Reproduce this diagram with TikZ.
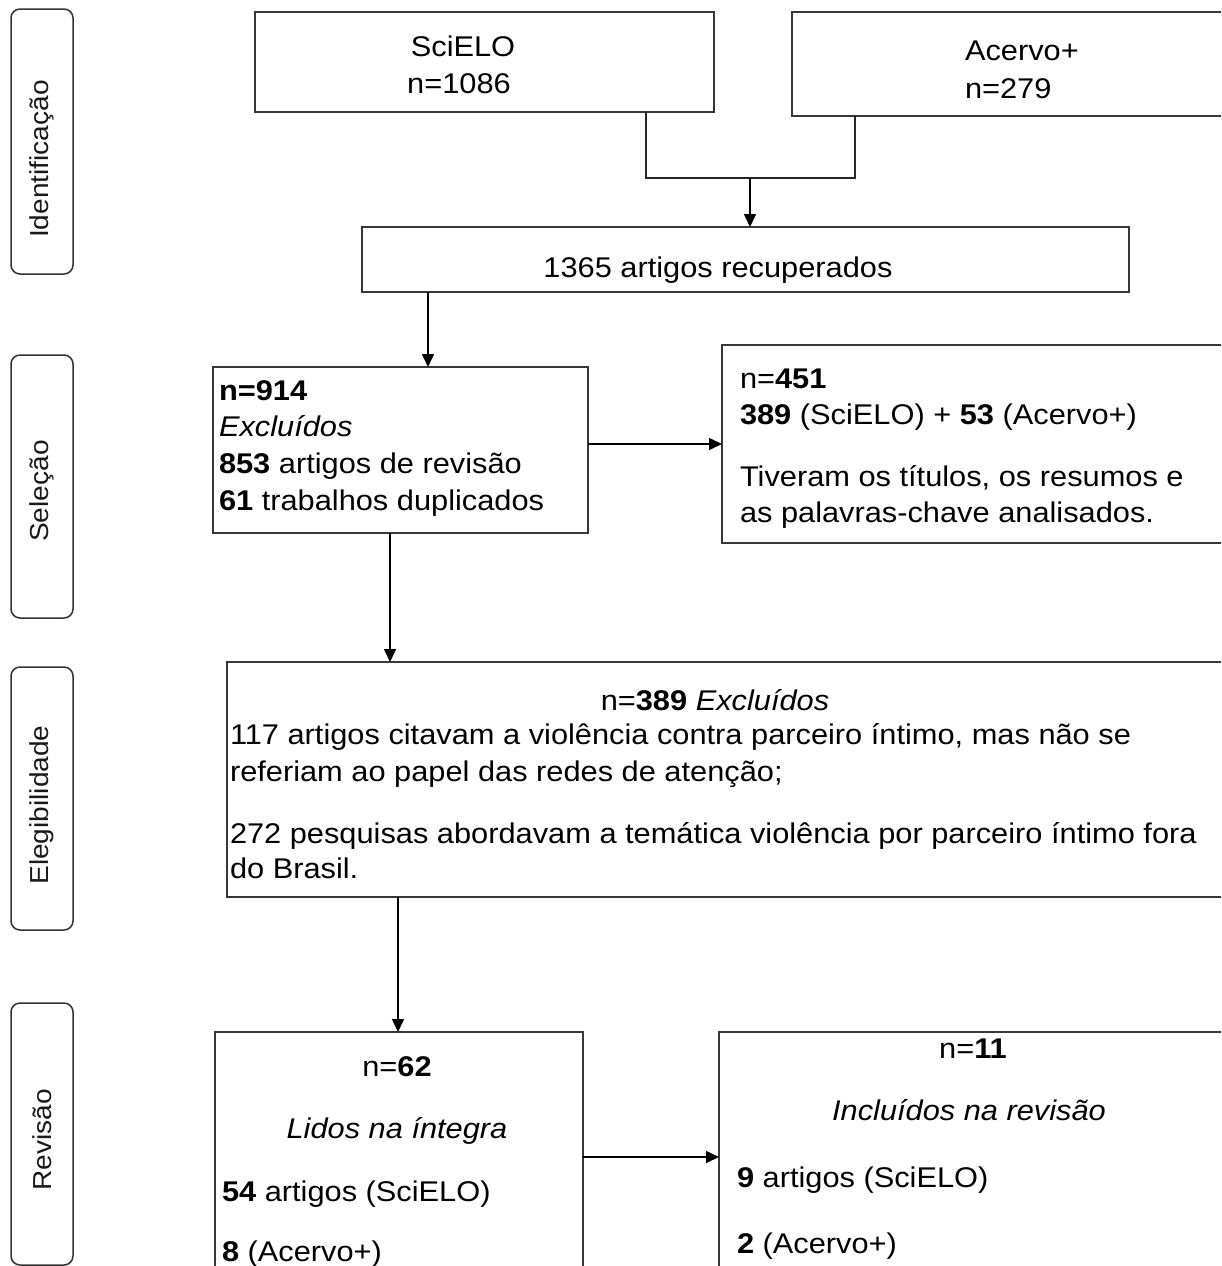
\documentclass[tikz,border=0pt]{standalone}
\usepackage{fontspec}
\setmainfont[FakeStretch=1.08]{Liberation Sans}
\usetikzlibrary{arrows.meta}
\newcommand\fs{\fontsize{28.5}{33}\selectfont}
\newcommand\lfs{\fontsize{26}{30}\selectfont}
\begin{document}
\begin{tikzpicture}[x=1pt,y=-1pt,
 box/.style={draw=black!78, line width=1.7pt, rectangle, anchor=north west, inner sep=0pt, outer sep=0pt},
 lab/.style={draw=black!80, line width=1.5pt, rounded corners=9pt, rectangle, anchor=north west, inner sep=0pt, outer sep=0pt},
 arr/.style={draw=black, line width=1.6pt, -{Triangle[length=13pt,width=12pt]}},
 con/.style={draw=black!85, line width=1.6pt},
 txt/.style={inner sep=0pt, outer sep=0pt, font=\fs, text=black},
 ltxt/.style={inner sep=0pt, outer sep=0pt, font=\lfs, rotate=90, text=black!90}]
\useasboundingbox (0,0) rectangle (1221,1266);
\fill[white] (0,0) rectangle (1221,1266);
\clip (0,0) rectangle (1221,1266);

% side labels
\node[lab, minimum width=62pt, minimum height=265pt] (L1) at (11,9) {};
\node[lab, minimum width=62pt, minimum height=263pt] (L2) at (11,355) {};
\node[lab, minimum width=62pt, minimum height=263pt] (L3) at (11,667) {};
\node[lab, minimum width=62pt, minimum height=262pt] (L4) at (11,1003) {};
\node[ltxt] (t1) at (42,159) {Identificação};
\node[ltxt] (t2) at (42,491) {Seleção};
\node[ltxt] (t3) at (42,805) {Elegibilidade};
\node[ltxt] (t4) at (42,1140) {Revisão};

% boxes
\node[box, minimum width=459pt, minimum height=100pt] (sci) at (255,12) {};
\node[box, minimum width=450pt, minimum height=104pt] (acv) at (792,12) {};
\node[box, minimum width=767pt, minimum height=65pt] (rec) at (362,227) {};
\node[box, minimum width=375pt, minimum height=166pt] (exc) at (213,367) {};
\node[box, minimum width=520pt, minimum height=198pt] (sel) at (722,345) {};
\node[box, minimum width=1015pt, minimum height=235pt] (eleg) at (227,662) {};
\node[box, minimum width=368pt, minimum height=260pt] (lid) at (215,1032) {};
\node[box, minimum width=522pt, minimum height=260pt] (inc) at (719,1032) {};

% texts
\node[txt, anchor=base] (s1) at (463,56) {SciELO};
\node[txt, anchor=base] (s2) at (459,93) {n=1086};
\node[txt, anchor=base west] (a1) at (965,60) {Acervo+};
\node[txt, anchor=base west] (a2t) at (965,98) {n=279};
\node[txt, anchor=base] (r1) at (718,277) {1365 artigos recuperados};

\node[txt, anchor=base west] (e1) at (219,400) {\textbf{n=914}};
\node[txt, anchor=base west] (e2) at (219,436) {\textit{Excluídos}};
\node[txt, anchor=base west] (e3) at (219,473) {\textbf{853} artigos de revisão};
\node[txt, anchor=base west] (e4) at (219,510) {\textbf{61} trabalhos duplicados};

\node[txt, anchor=base west] (p1) at (740,388) {n=\textbf{451}};
\node[txt, anchor=base west] (p2) at (740,424) {\textbf{389} (SciELO) + \textbf{53} (Acervo+)};
\node[txt, anchor=base west] (p3) at (740,486) {Tiveram os títulos, os resumos e};
\node[txt, anchor=base west] (p4) at (740,522) {as palavras-chave analisados.};

\node[txt, anchor=base] (g1) at (715,710) {n=\textbf{389} \textit{Excluídos}};
\node[txt, anchor=base west] (g2) at (230,744) {117 artigos citavam a violência contra parceiro íntimo, mas não se};
\node[txt, anchor=base west] (g3) at (230,781) {referiam ao papel das redes de atenção;};
\node[txt, anchor=base west] (g4) at (230,843) {272 pesquisas abordavam a temática violência por parceiro íntimo fora};
\node[txt, anchor=base west] (g5) at (230,878) {do Brasil.};

\node[txt, anchor=base] (l1) at (397,1076) {n=\textbf{62}};
\node[txt, anchor=base] (l2) at (397,1138) {\textit{Lidos na íntegra}};
\node[txt, anchor=base west] (l3) at (222,1201) {\textbf{54} artigos (SciELO)};
\node[txt, anchor=base west] (l4) at (222,1261) {\textbf{8} (Acervo+)};

\node[txt, anchor=base] (i1) at (973,1058) {n=\textbf{11}};
\node[txt, anchor=base] (i2) at (969,1120) {\textit{Incluídos na revisão}};
\node[txt, anchor=base west] (i3) at (737,1187) {\textbf{9} artigos (SciELO)};
\node[txt, anchor=base west] (i4) at (737,1253) {\textbf{2} (Acervo+)};

% connectors
\coordinate (j1) at (646,178);
\coordinate (j2) at (855,178);
\coordinate (j0) at (750,178);
\draw[con] (j1 |- sci.south) -- (j1) -- (j2) -- (j2 |- acv.south);
\draw[arr] (j0) -- (j0 |- rec.north);
\coordinate (c2) at (428,0);
\draw[arr] (c2 |- rec.south) -- (c2 |- exc.north);
\draw[arr] (sel.west -| exc.east) -- (sel.west);
\coordinate (c4) at (390,0);
\draw[arr] (c4 |- exc.south) -- (c4 |- eleg.north);
\coordinate (c5) at (398,0);
\draw[arr] (c5 |- eleg.south) -- (c5 |- lid.north);
\coordinate (h6) at (0,1157);
\draw[arr] (h6 -| lid.east) -- (h6 -| inc.west);
\end{tikzpicture}
\end{document}
